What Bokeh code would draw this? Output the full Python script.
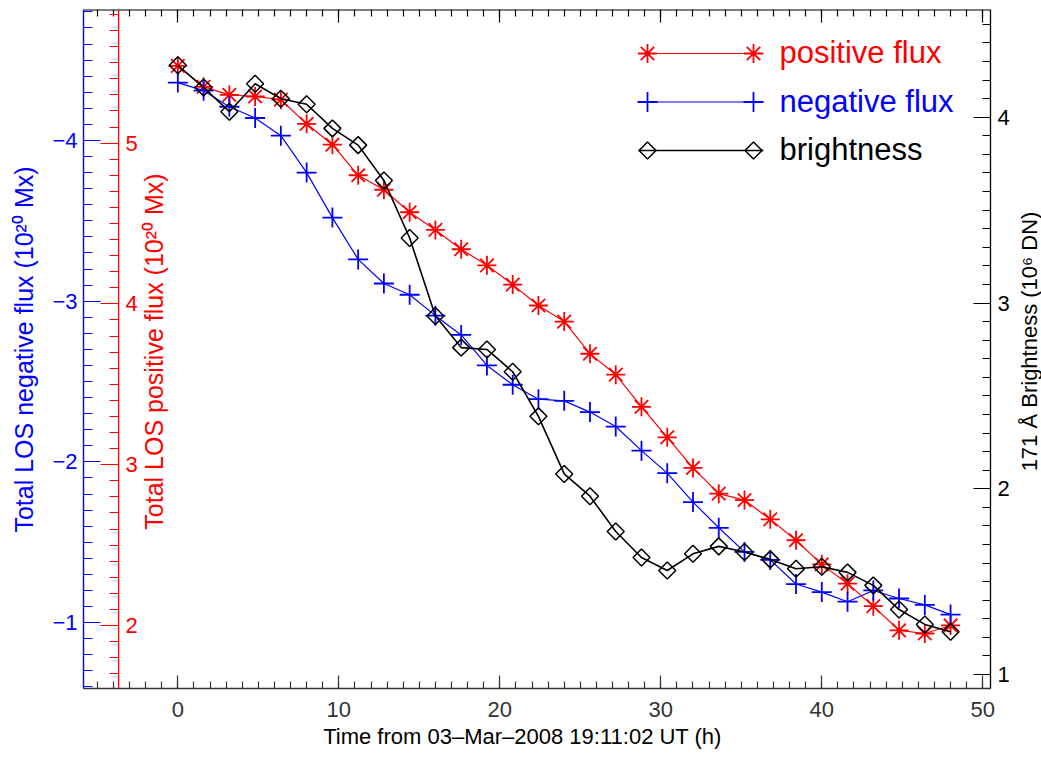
import numpy as np
from bokeh.plotting import figure
from bokeh.models import (Range1d, LinearAxis, FixedTicker, CustomJSTickFormatter,
                          ColumnDataSource, Label)
from bokeh.embed import file_html
from bokeh.resources import INLINE
from bokeh.core.properties import value

# ---------------- data ----------------
time_h = [0.0, 1.6, 3.2, 4.8, 6.4, 8.0, 9.6, 11.2, 12.8, 14.4, 16.0, 17.6, 19.2, 20.8,
          22.4, 24.0, 25.6, 27.2, 28.8, 30.4, 32.0, 33.6, 35.2, 36.8, 38.4, 40.0,
          41.6, 43.2, 44.8, 46.4, 48.0]
pos_flux = [5.48, 5.35, 5.30, 5.29, 5.27, 5.12, 4.99, 4.80, 4.71, 4.57, 4.46, 4.34,
            4.24, 4.12, 3.99, 3.89, 3.69, 3.56, 3.36, 3.17, 2.98, 2.82, 2.78, 2.66,
            2.53, 2.38, 2.26, 2.12, 1.97, 1.95, 2.00]
neg_flux = [-4.36, -4.31, -4.21, -4.14, -4.03, -3.80, -3.52, -3.26, -3.11, -3.04,
            -2.91, -2.79, -2.60, -2.48, -2.39, -2.38, -2.31, -2.22, -2.07, -1.93,
            -1.75, -1.59, -1.44, -1.39, -1.24, -1.19, -1.13, -1.20, -1.15, -1.11, -1.05]
brightness = [4.28, 4.16, 4.03, 4.18, 4.10, 4.07, 3.94, 3.85, 3.66, 3.35, 2.93, 2.76,
              2.75, 2.63, 2.39, 2.08, 1.96, 1.77, 1.63, 1.56, 1.65, 1.69, 1.66, 1.62,
              1.57, 1.58, 1.55, 1.48, 1.35, 1.27, 1.23]

x_major = [0, 10, 20, 30, 40, 50]
neg_major = [-4, -3, -2, -1]
pos_major = [2, 3, 4, 5]
bri_major = [1, 2, 3, 4]

legend_labels = ["positive flux", "negative flux", "brightness"]
legend_colors = ["red", "blue", "black"]

x_title = "Time from 03\u2013Mar\u20132008 19:11:02 UT (h)"
neg_title = "Total LOS negative flux (10\u00b2\u2070 Mx)"
pos_title = "Total LOS positive flux (10\u00b2\u2070 Mx)"
bri_title = "171 \u00c5 Brightness (10\u2076 DN)"

FONT = "Liberation Sans"

# ---------------- layout geometry (pixels) ----------------
W, H = 1041, 758
BOX_L, BOX_R, BOX_T, BOX_B = 83, 990, 9, 688

# axis limits of the plotting box
X_LO, X_HI = -5.86, 50.48
NEG_TOP, NEG_BOT = -4.815, -0.59
POS_TOP, POS_BOT = 5.831, 1.608
BRI_TOP, BRI_BOT = 4.58, 0.925
X_RED_AXIS = -3.68


def extend(v_a, v_b, px_a, px_b, px_new):
    """value at pixel px_new for a linear map through (px_a, v_a), (px_b, v_b)"""
    return v_a + (v_b - v_a) * (px_new - px_a) / (px_b - px_a)


# the frame covers the whole canvas below the top margin; axes sit at fixed places
x_start = extend(X_LO, X_HI, BOX_L, BOX_R, 0)
x_end = extend(X_LO, X_HI, BOX_L, BOX_R, W)
neg_start = extend(NEG_TOP, NEG_BOT, BOX_T, BOX_B, H)
pos_start = extend(POS_TOP, POS_BOT, BOX_T, BOX_B, H)
bri_start = extend(BRI_TOP, BRI_BOT, BOX_T, BOX_B, H)

p = figure(width=W, height=H, output_backend="svg", toolbar_location=None,
           x_range=Range1d(x_start, x_end), y_range=Range1d(neg_start, NEG_TOP),
           x_axis_location=None, y_axis_location=None,
           min_border_left=0, min_border_right=0, min_border_top=BOX_T,
           min_border_bottom=0)
p.outline_line_color = None
p.background_fill_color = "white"
p.border_fill_color = "white"
p.grid.visible = False

p.extra_y_ranges = {"pos": Range1d(pos_start, POS_TOP),
                    "bri": Range1d(bri_start, BRI_TOP),
                    "legy": Range1d(H, BOX_T)}
p.extra_x_ranges = {"legx": Range1d(0, W)}

minus_fmt = CustomJSTickFormatter(code="return String(Math.round(tick)).replace('-', '\u2212');")


def style(ax, color, tmaj, tmin, lab_size="22px"):
    ax.axis_line_color = None
    ax.major_tick_line_color = color
    ax.minor_tick_line_color = color
    ax.major_label_text_color = color
    ax.major_tick_in = tmaj
    ax.major_tick_out = 0
    ax.minor_tick_in = tmin
    ax.minor_tick_out = 0
    ax.major_label_text_font = FONT
    ax.major_label_text_font_size = lab_size
    ax.major_tick_line_width = 1.2
    ax.minor_tick_line_width = 1.2


# left (blue) axis - negative flux
neg_minor = [round(v, 2) for v in np.arange(-4.8, -0.55, 0.1)]
ax_neg = LinearAxis(fixed_location=X_LO,
                    ticker=FixedTicker(ticks=neg_major, minor_ticks=neg_minor),
                    formatter=minus_fmt)
style(ax_neg, "blue", 17, 9)
ax_neg.major_label_standoff = 6
p.add_layout(ax_neg, "left")

# right (black) axis - brightness
bri_minor = [round(v, 2) for v in np.arange(1.0, 4.55, 0.1)]
ax_bri = LinearAxis(y_range_name="bri", fixed_location=X_HI,
                    ticker=FixedTicker(ticks=bri_major, minor_ticks=bri_minor),
                    formatter=minus_fmt)
style(ax_bri, "black", 17, 8)
ax_bri.major_label_standoff = 7
p.add_layout(ax_bri, "right")

# inner (red) axis - positive flux
pos_minor = [round(v, 2) for v in np.arange(1.7, 5.85, 0.1)]
ax_pos = LinearAxis(y_range_name="pos", fixed_location=X_RED_AXIS,
                    ticker=FixedTicker(ticks=pos_major, minor_ticks=pos_minor),
                    formatter=minus_fmt)
style(ax_pos, "red", 18, 9)
ax_pos.major_label_standoff = 7
p.add_layout(ax_pos, "right")

# bottom axis
x_minor = list(range(-5, 51))
ax_x = LinearAxis(fixed_location=NEG_BOT,
                  ticker=FixedTicker(ticks=x_major, minor_ticks=x_minor),
                  formatter=minus_fmt)
style(ax_x, "#333333", 13, 7)
ax_x.major_label_standoff = 13
p.add_layout(ax_x, "below")

# top axis (ticks only)
ax_top = LinearAxis(fixed_location=NEG_TOP,
                    ticker=FixedTicker(ticks=x_major, minor_ticks=x_minor),
                    formatter=CustomJSTickFormatter(code="return '';"))
style(ax_top, "black", 13, 7, lab_size="1px")
ax_top.major_label_standoff = 0
p.add_layout(ax_top, "above")

# box / axis rules
p.segment(x0=[X_LO], y0=[NEG_TOP], x1=[X_HI], y1=[NEG_TOP], line_color="black", line_width=2)
p.segment(x0=[X_LO], y0=[NEG_BOT], x1=[X_HI], y1=[NEG_BOT], line_color="#333333", line_width=1.4)
p.segment(x0=[X_LO], y0=[NEG_TOP], x1=[X_LO], y1=[NEG_BOT], line_color="blue", line_width=1.4)
p.segment(x0=[X_RED_AXIS], y0=[POS_TOP], x1=[X_RED_AXIS], y1=[POS_BOT], y_range_name="pos",
          line_color="red", line_width=1.3)
p.segment(x0=[X_HI], y0=[BRI_TOP], x1=[X_HI], y1=[BRI_BOT], y_range_name="bri",
          line_color="black", line_width=1.3)

# axis titles
for txt, x, y, ang, col, fs in [(x_title, 522, 736, 0, "black", "22px"),
                                (neg_title, 23, 349, np.pi / 2, "blue", "25px"),
                                (pos_title, 153, 351, np.pi / 2, "red", "25px"),
                                (bri_title, 1029, 341, np.pi / 2, "black", "22px")]:
    p.add_layout(Label(x=x, y=y, x_range_name="legx", y_range_name="legy",
                       text=txt, angle=ang, text_align="center",
                       text_baseline="alphabetic", text_color=col,
                       text_font=FONT, text_font_size=fs))

# ---------------- data series ----------------
src = ColumnDataSource(dict(t=time_h, pos=pos_flux, neg=neg_flux, bri=brightness))

p.line("t", "pos", source=src, y_range_name="pos", line_color="red", line_width=1.2)
p.scatter("t", "pos", source=src, y_range_name="pos", marker="asterisk", size=19,
          line_color="red", line_width=1.8)

p.line("t", "neg", source=src, line_color="blue", line_width=1.2)
p.scatter("t", "neg", source=src, marker="cross", size=20, line_color="blue",
          line_width=1.8)

p.line("t", "bri", source=src, y_range_name="bri", line_color="black", line_width=1.6)
p.scatter("t", "bri", source=src, y_range_name="bri", marker="square",
          angle=np.pi / 4, size=12, fill_color=None, line_color="black",
          line_width=1.5)

# ---------------- legend ----------------
leg_rows = [53, 101.5, 150]
leg_markers = ["asterisk", "cross", "square"]
leg_sizes = [19, 20, 12]
leg_angles = [0, 0, np.pi / 4]
for row, lab, col, mk, sz, ang in zip(leg_rows, legend_labels, legend_colors,
                                      leg_markers, leg_sizes, leg_angles):
    p.line(x=[638, 763], y=[row, row], x_range_name="legx", y_range_name="legy",
           line_color=col, line_width=1.2 if col != "black" else 1.6)
    p.scatter(x=[647, 753], y=[row, row], x_range_name="legx", y_range_name="legy",
              marker=mk, size=sz, angle=ang, fill_color=None, line_color=col,
              line_width=1.8 if col != "black" else 1.5)
    p.text(x=[779], y=[row - 1], text=[lab], x_range_name="legx", y_range_name="legy",
           text_color=col, text_font=value(FONT), text_font_size="31px",
           text_baseline="alphabetic", text_align="left")

open("out.html", "w").write(file_html(p, INLINE))
